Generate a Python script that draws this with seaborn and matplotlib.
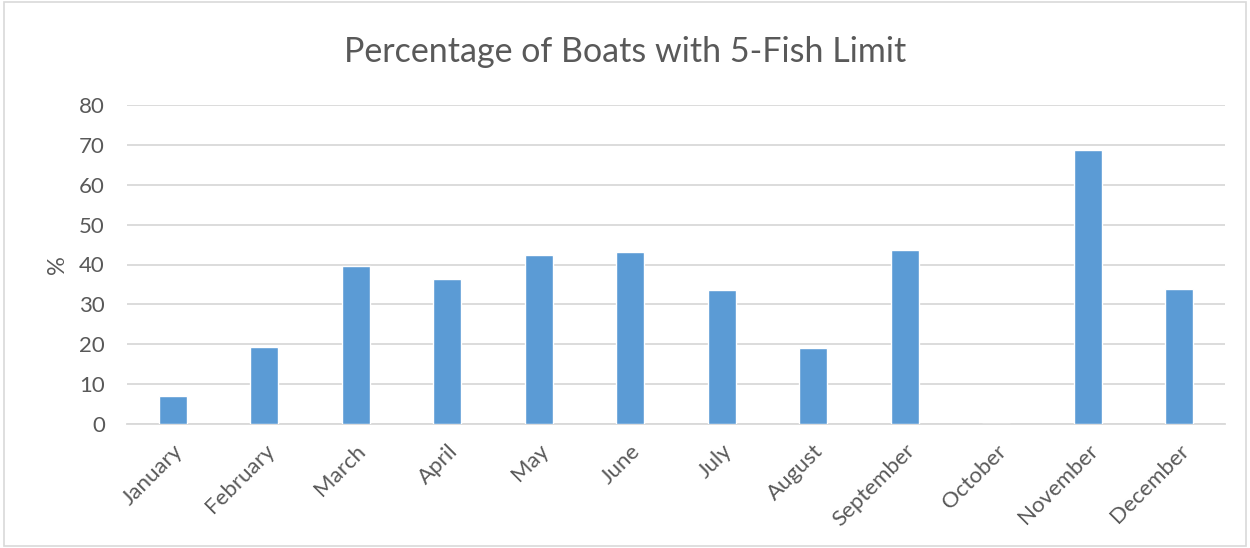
import pandas as pd
import seaborn as sns
import matplotlib.pyplot as plt

# data
months = ["January", "February", "March", "April", "May", "June",
          "July", "August", "September", "October", "November", "December"]
pct_5fish = [7.0, 19.3, 39.7, 36.4, 42.4, 43.2, 33.6, 19.0, 43.6, 0.0, 68.8, 33.8]

df = pd.DataFrame({"month": months, "pct": pct_5fish})

sns.set_theme(style="white")
plt.rcParams['font.family'] = ['Lato', 'DejaVu Sans']

fig = plt.figure(figsize=(12.5, 5.48), dpi=100)
ax = fig.add_axes([127 / 1250, 1 - 424 / 548, (1225 - 127) / 1250, (424 - 105) / 548])

sns.barplot(data=df, x="month", y="pct", color="#5B9BD5", width=0.31,
            saturation=1, ax=ax, zorder=3)

ax.set_ylim(0, 80)
ax.set_yticks(range(0, 81, 10))
ax.set_xlim(-0.5, 11.5)
ax.yaxis.grid(True, color="#D9D9D9", linewidth=1.3, zorder=0)
for s in ["top", "right", "left"]:
    ax.spines[s].set_visible(False)
ax.spines["bottom"].set_color("#D9D9D9")
ax.spines["bottom"].set_linewidth(1.3)

ax.tick_params(axis="both", length=0, labelsize=16, colors="#595959")
ax.tick_params(axis="y", pad=16)
ax.tick_params(axis="x", pad=12)
plt.setp(ax.get_xticklabels(), rotation=45, ha="right", rotation_mode="anchor")
ax.set_xlabel("")
ax.set_ylabel("%", fontsize=17, color="#595959", labelpad=8)

fig.suptitle("Percentage of Boats with 5-Fish Limit", fontsize=24.5, color="#595959", y=0.935)

# light border around the chart area
fig.patches.append(plt.Rectangle((0.003, 0.003), 0.994, 0.994, transform=fig.transFigure,
                                 fill=False, edgecolor="#D9D9D9", linewidth=1.2))

plt.savefig("out.png", dpi=100)
plt.close()
